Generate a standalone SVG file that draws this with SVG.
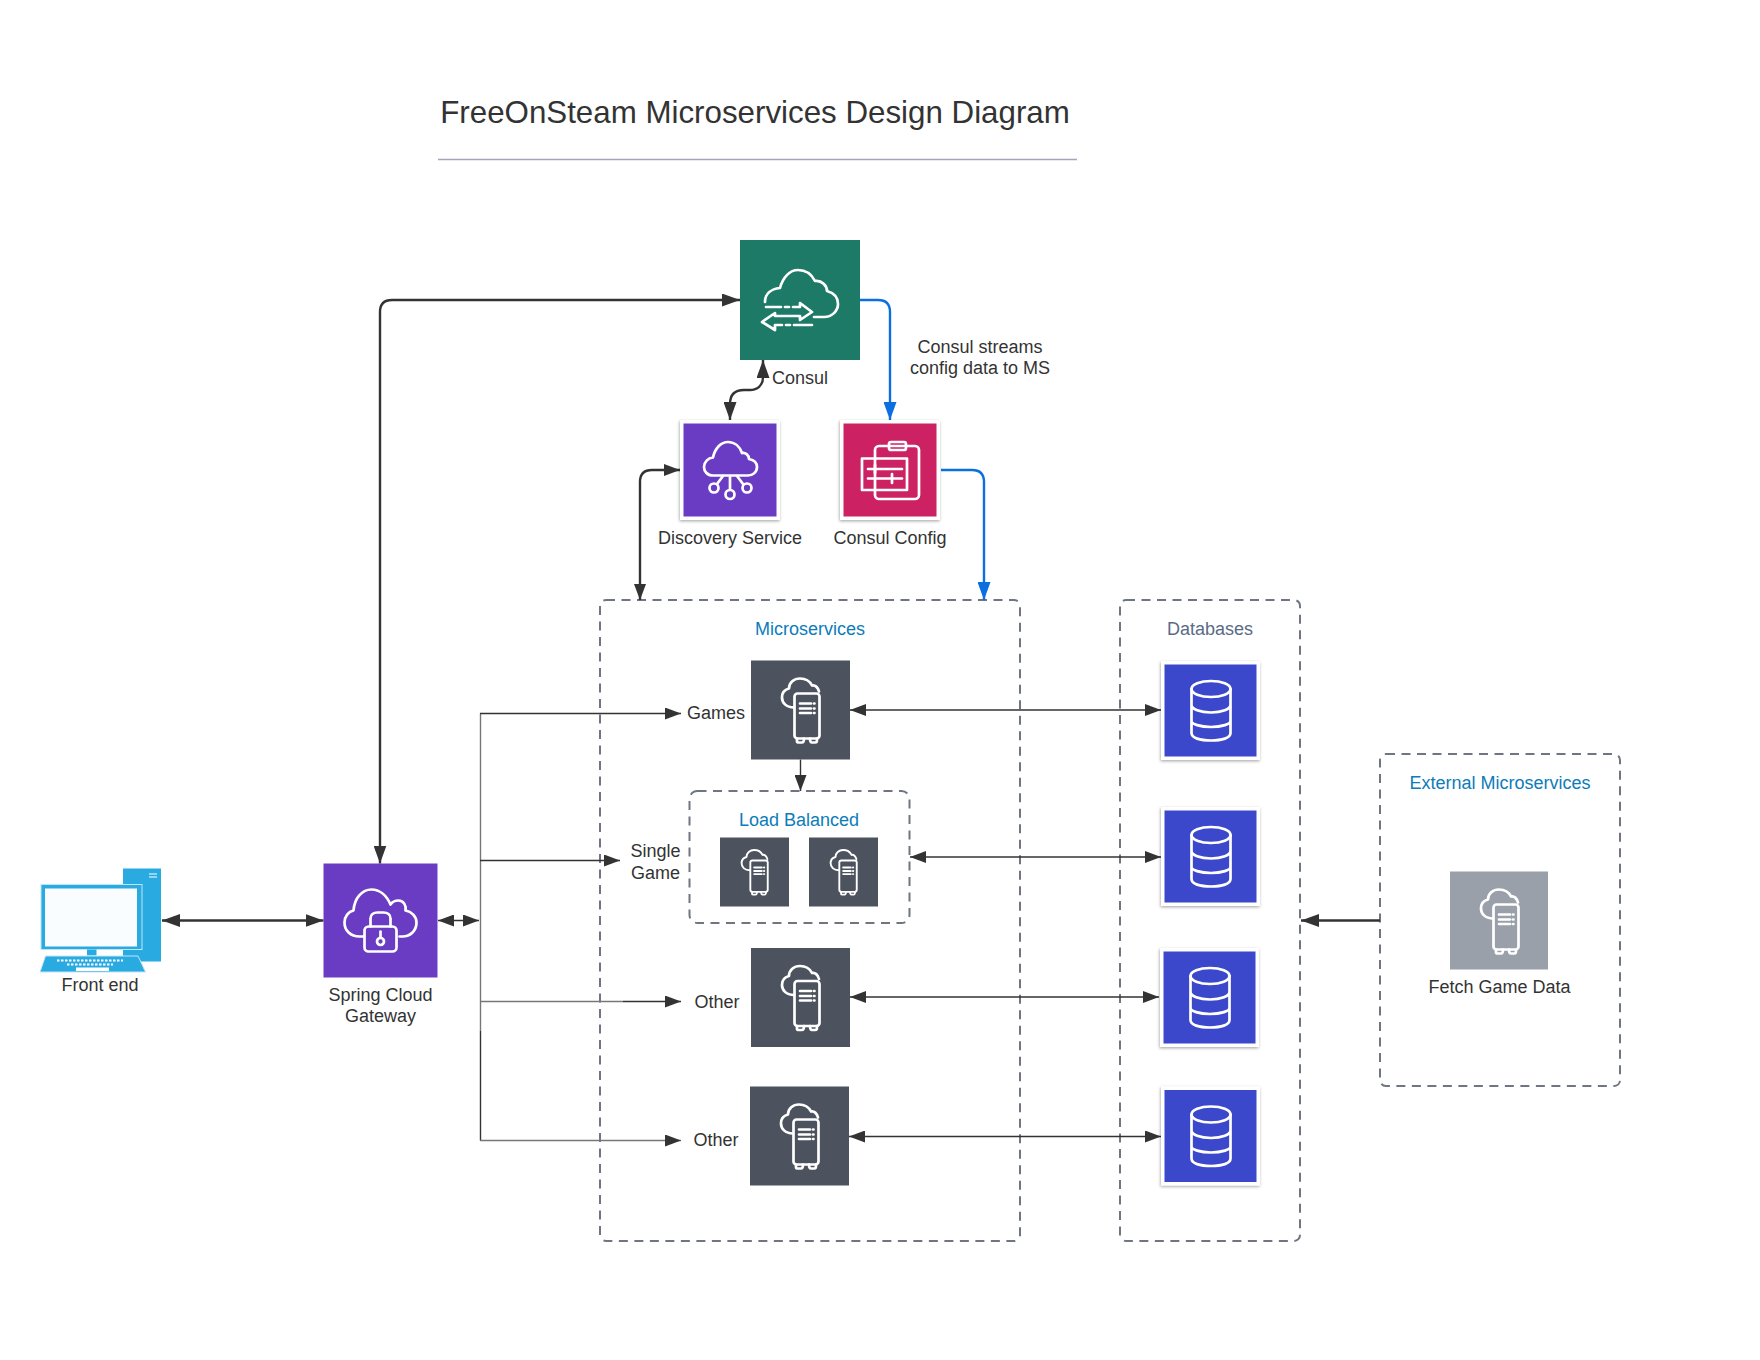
<svg xmlns="http://www.w3.org/2000/svg" width="1760" height="1360" viewBox="0 0 1760 1360">
<style>
text{font-family:"Liberation Sans",Arial,sans-serif;font-size:18px;fill:#333;text-anchor:middle}
.title{font-size:31.3px}
.blue{fill:#0c7cba}
.slate{fill:#5a6b86}
.box{fill:none;stroke:#6f7682;stroke-width:2;stroke-dasharray:9 6.5}
.ic{fill:none;stroke:#fff;stroke-width:2.7;stroke-linejoin:round;stroke-linecap:round}
.c1{fill:none;stroke:#333;stroke-width:1.4}
.cg{fill:none;stroke:#777;stroke-width:1.4}
.c2{fill:none;stroke:#333;stroke-width:2.4}
.cb{fill:none;stroke:#0c6fe0;stroke-width:2.4}
.card{fill:#fff;filter:url(#sh)}
</style>
<defs>
<filter id="sh" x="-10%" y="-10%" width="120%" height="120%"><feDropShadow dx="-0.500" dy="1.200" stdDeviation="1.800" flood-color="#000" flood-opacity=".35"/></filter>
<marker id="a1" viewBox="0 0 16 12" refX="16" refY="6" markerWidth="16" markerHeight="12" markerUnits="userSpaceOnUse" orient="auto-start-reverse"><path d="M0 0L16 6L0 12Z" fill="#333"/></marker>
<marker id="a2" viewBox="0 0 18 13" refX="18" refY="6.5" markerWidth="18" markerHeight="13" markerUnits="userSpaceOnUse" orient="auto-start-reverse"><path d="M0 0L18 6.500L0 13Z" fill="#333"/></marker>
<marker id="ab" viewBox="0 0 18 13" refX="18" refY="6.5" markerWidth="18" markerHeight="13" markerUnits="userSpaceOnUse" orient="auto"><path d="M0 0L18 6.500L0 13Z" fill="#0c6fe0"/></marker>
<g id="srv">
<path class="ic" d="M43 47C35 47 31 42 31 37C31 32 34 29 38 28C38 22 43 18 49 18C55 18 59 21 61 25C64 24 67 27 68 31"/>
<rect class="ic" x="43.500" y="33" width="25" height="45" rx="3"/>
<path class="ic" d="M46 78V81C46 82 47 82 48 82H51C53 82 53 80 53 78M59 78C59 80 59 82 61 82H64C66 82 66 81 66 78"/>
<path class="ic" d="M49 43H60M49 48H60M49 52.500H60M63 43H63.500M63 48H63.500M63 52.500H63.500" stroke-linecap="butt"/>
</g>
<g id="dbi">
<ellipse class="ic" cx="50" cy="28" rx="19.500" ry="8"/>
<path class="ic" d="M30.500 28V72C30.500 77 39 79.500 50 79.500C61 79.500 69.500 77 69.500 72V28M30.500 44C30.500 48 39 51.500 50 51.500C61 51.500 69.500 48 69.500 44M30.500 60C30.500 63 39 66 50 66C61 66 69.500 63 69.500 60"/>
</g>
</defs>
<rect width="1760" height="1360" fill="#fff"/>
<g id="title-block">
<text class="title" x="755" y="123">FreeOnSteam Microservices Design Diagram</text>
<path d="M438 159.500H1077" stroke="#a3a5bb" stroke-width="1.300"/>
</g>
<g id="microservices-box"><rect class="box" x="600" y="600" width="420" height="641" rx="6"/><text class="blue" x="810" y="635">Microservices</text></g>
<g id="databases-box"><rect class="box" x="1120" y="600" width="180" height="641" rx="6"/><text class="slate" x="1210" y="635">Databases</text></g>
<g id="external-box"><rect class="box" x="1380" y="754" width="240" height="332" rx="6"/><text class="blue" x="1500" y="789">External Microservices</text></g>
<g id="connectors">
<path class="c2" d="M740 300H392Q380 300 380 312V863.500" marker-end="url(#a2)" marker-start="url(#a2)"/>
<path class="cb" d="M860 300H878Q890 300 890 312V420" marker-end="url(#ab)"/>
<path class="cb" d="M941 470H972Q984 470 984 482V600" marker-end="url(#ab)"/>
<path class="c2" d="M763 360V377C763 386 757 390 750 390H744C736 390 730 394 730 404V420" marker-start="url(#a2)" marker-end="url(#a2)"/>
<path class="c2" d="M680 470H652Q640 470 640 482V600" marker-start="url(#a1)" marker-end="url(#a1)"/>
<path class="c2" d="M162 920.500H323.500" marker-start="url(#a2)" marker-end="url(#a2)"/>
<path class="c1" d="M438 920.500H479" marker-start="url(#a1)" marker-end="url(#a1)"/>
<path class="cg" d="M480.500 713.500V1031"/>
<path class="c1" d="M480.500 1031V1140.500"/>
<path class="c1" d="M480 713.500H681" marker-end="url(#a1)"/>
<path class="c1" d="M480 860.500H620" marker-end="url(#a1)"/>
<path class="cg" d="M480 1001.500H623"/>
<path class="c1" d="M623 1001.500H681" marker-end="url(#a1)"/>
<path class="cg" d="M480 1140.500H681" stroke-width="2" marker-end="url(#a1)"/>
<path class="c1" d="M850 710H1161" marker-start="url(#a1)" marker-end="url(#a1)"/>
<path class="c1" d="M910 857H1161" marker-start="url(#a1)" marker-end="url(#a1)"/>
<path class="c1" d="M850 997H1159" marker-start="url(#a1)" marker-end="url(#a1)"/>
<path class="c1" d="M849 1136.500H1161" marker-start="url(#a1)" marker-end="url(#a1)"/>
<path class="c1" d="M800.500 759.500V791" marker-end="url(#a1)"/>
<path class="c2" d="M1380 920.500H1301" marker-end="url(#a2)"/>
</g>
<g id="consul" transform="translate(740 240)">
<rect width="120" height="120" fill="#1d7a67"/>
<path class="ic" d="M25 62C25 54 31 49 40 48C43 37 50 30 58 30C66 30 72 35 75 41C82 40 87 46 87 51C94 53 98 58 98 64C98 71 92 77 84 77H74"/>
<path class="ic" d="M26 67H41M45 67H49M53 67H60V63L72 72L60 80V76H35V73L22 82L35 90V85H42M46 85H50M54 85H72" stroke-linecap="butt"/>
<text x="60" y="143.500">Consul</text>
</g>
<g id="discovery" transform="translate(680 420)">
<rect class="card" width="100" height="100"/><rect x="3.500" y="3.500" width="93" height="93" fill="#6a3cc4"/>
<path class="ic" d="M33 55.500C27 55.500 24 51 24 47C24 42 28 38 33 37.500C35 28 41 22 48 22C55 22 60 27 62 33C65 32 69 35 69 39C74 40 77 43 77 47C77 52 73 55.500 68 55.500Z"/>
<path class="ic" d="M50 56V69.500M43 56L37 64M57 56L63 64"/>
<circle class="ic" cx="34" cy="68" r="4.500"/><circle class="ic" cx="50" cy="74.500" r="4.500"/><circle class="ic" cx="67" cy="68" r="4.500"/>
<text x="50" y="124">Discovery Service</text>
</g>
<g id="config" transform="translate(840 420)">
<rect class="card" width="100" height="100"/><rect x="3.500" y="3.500" width="93" height="93" fill="#cc2264"/>
<rect class="ic" x="35" y="26" width="44" height="53" rx="4"/>
<rect class="ic" x="49" y="22" width="17" height="8" rx="2" fill="#cc2264"/>
<rect class="ic" x="22" y="38.500" width="45" height="31.500" fill="#cc2264" stroke-linejoin="miter"/>
<path class="ic" d="M28 49H62M35 45V53M28 58.500H62M52 54V63"/>
<text x="50" y="124">Consul Config</text>
</g>
<g id="frontend" transform="translate(40 868.500)">
<rect x="83" width="38" height="93" fill="#29abe2"/>
<path d="M109 5.500H117M109 8.500H117" stroke="#fff" stroke-width="1.200"/>
<rect x="1" y="16" width="101" height="65" fill="#29abe2" stroke="#bfe6f7" stroke-width="1"/>
<rect x="5" y="20" width="92" height="58" fill="#fafdff"/>
<rect x="47" y="81" width="9.500" height="6" fill="#29abe2"/>
<path d="M5.500 87.500H98L105.500 103.500H0Z" fill="#29abe2" stroke="#bfe6f7" stroke-width="1"/>
<path d="M17 92H83M27 96H73" stroke="#fff" stroke-width="1.800" stroke-dasharray="2.500 1.500"/>
<rect x="36" y="99" width="33" height="3.500" fill="#fff"/>
<text x="60" y="122">Front end</text>
</g>
<g id="gateway" transform="translate(323.500 863.500)">
<rect width="114" height="114" fill="#6a3cc4"/>
<path class="ic" d="M40 73H36C27 73 21 67 21 59C21 53 25 48 30 47C31 34 39 26 48 26C56 26 63 32 67 41C69 38 72 37 75 37C80 37 83 42 82 47C88 48 93 53 93 59C93 67 87 73 79 73H76"/>
<rect class="ic" x="41" y="63" width="32" height="25" rx="4"/>
<path class="ic" d="M47 63V55C47 51 50 49 54 49H60C64 49 67 51 67 55V63"/>
<circle class="ic" cx="57" cy="78" r="3.500"/><path class="ic" d="M57 68V74"/>
<text x="57" y="137">Spring Cloud</text><text x="57" y="158.500">Gateway</text>
</g>
<g id="games" transform="translate(751 660.500)"><rect width="99" height="99" fill="#4c535e"/><use href="#srv"/><text x="-35" y="58">Games</text></g>
<g id="load-balanced">
<rect class="box" x="689.500" y="791" width="220" height="132" rx="8"/>
<text class="blue" x="799" y="826">Load Balanced</text>
<text x="655.500" y="857">Single</text><text x="655.500" y="878.500">Game</text>
<g transform="translate(720 837.500)"><rect width="69" height="69" fill="#4c535e"/><use href="#srv" transform="scale(.697)"/></g>
<g transform="translate(809 837.500)"><rect width="69" height="69" fill="#4c535e"/><use href="#srv" transform="scale(.697)"/></g>
</g>
<g id="other1" transform="translate(751 948)"><rect width="99" height="99" fill="#4c535e"/><use href="#srv"/><text x="-34" y="60">Other</text></g>
<g id="other2" transform="translate(750 1086.500)"><rect width="99" height="99" fill="#4c535e"/><use href="#srv"/><text x="-34" y="59.500">Other</text></g>
<g id="db1" transform="translate(1161 661)"><rect class="card" width="99" height="99"/><rect x="3.500" y="3.500" width="92" height="92" fill="#3c48cc"/><use href="#dbi"/></g>
<g id="db2" transform="translate(1161 807)"><rect class="card" width="99" height="99"/><rect x="3.500" y="3.500" width="92" height="92" fill="#3c48cc"/><use href="#dbi"/></g>
<g id="db3" transform="translate(1160 948)"><rect class="card" width="99" height="99"/><rect x="3.500" y="3.500" width="92" height="92" fill="#3c48cc"/><use href="#dbi"/></g>
<g id="db4" transform="translate(1161 1086.500)"><rect class="card" width="99" height="99"/><rect x="3.500" y="3.500" width="92" height="92" fill="#3c48cc"/><use href="#dbi"/></g>
<g id="fetch" transform="translate(1450 871.500)"><rect width="98" height="98" fill="#9aa0a9"/><use href="#srv"/><text x="49.500" y="121.500">Fetch Game Data</text></g>
<text x="980" y="353">Consul streams</text><text x="980" y="374">config data to MS</text>
</svg>
